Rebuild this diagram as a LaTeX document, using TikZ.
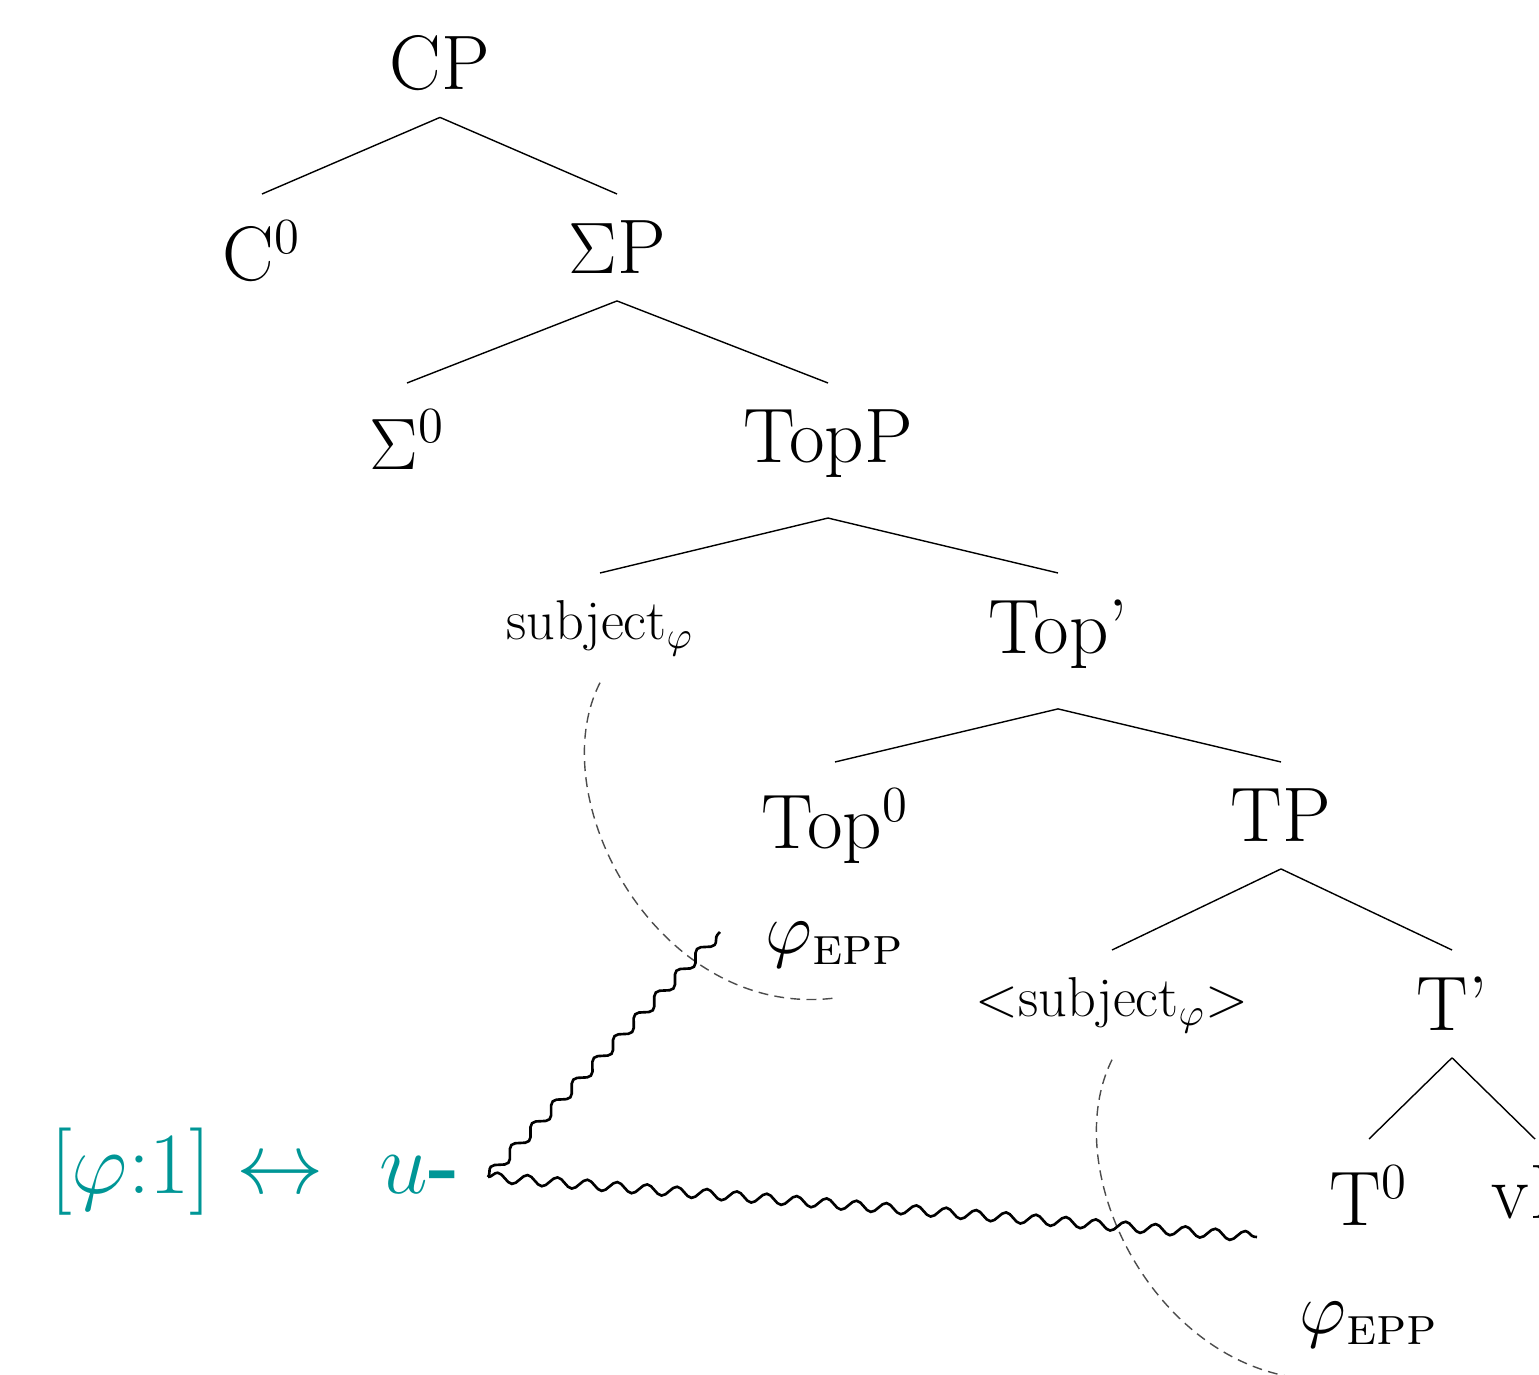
\documentclass[tikz,border=0pt]{standalone}
\usepackage{amsmath}
\usetikzlibrary{decorations.pathmorphing}
\definecolor{rulecol}{RGB}{0,150,150}

\begin{document}
\begin{tikzpicture}[
    big/.style={font=\fontsize{22}{26}\selectfont, anchor=north, inner xsep=2pt, inner ysep=7.5pt},
    small/.style={font=\fontsize{16}{19}\selectfont, anchor=north, inner xsep=2pt, inner ysep=7.5pt},
    branch/.style={line width=0.4pt},
    trace/.style={black!70, line width=0.4pt, dash pattern=on 2.8pt off 1.8pt},
    agree/.style={line width=0.75pt, decorate,
      decoration={snake, amplitude=0.5mm, segment length=3mm}}]
    % frame (tree is cut at the right and bottom)
    \clip (0,0) rectangle (15.39,-13.75);

    % tree nodes
    \node[big] (cp) at (4.40,-0.08) {CP};
    \node[big] (czero) at (2.62,-1.94) {C$^0$};
    \node[big] (sigmap) at (6.17,-1.94) {$\Sigma$P};
    \node[big] (sigmazero) at (4.07,-3.83) {$\Sigma^0$};
    \node[big, text depth=8pt] (topp) at (8.28,-3.83) {TopP};
    \node[small] (subj) at (6.00,-5.73) {subject$_\varphi$};
    \node[big, text depth=8pt] (topbar) at (10.58,-5.73) {Top'};
    \node[big] (topzero) at (8.35,-7.62) {Top$^0$};
    \node[big] (tp) at (12.81,-7.62) {TP};
    \node[small] (subjtrace) at (11.12,-9.50) {\textless subject$_\varphi$\textgreater};
    \node[big] (tbar) at (14.52,-9.50) {T'};
    \node[big] (tzero) at (13.69,-11.39) {T$^0$};
    \node[big] (vp) at (15.35,-11.39) {vP};

    % features on the heads
    \node[font=\fontsize{22}{26}\selectfont] (epptop) at (8.35,-9.45) {$\varphi_{\text{\textsc{epp}}}$};
    \node[font=\fontsize{22}{26}\selectfont] (eppt) at (13.69,-13.25) {$\varphi_{\text{\textsc{epp}}}$};

    % branches
    \foreach \a/\b in {cp/czero, cp/sigmap, sigmap/sigmazero, sigmap/topp,
                       topp/subj, topp/topbar, topbar/topzero, topbar/tp,
                       tp/subjtrace, tp/tbar, tbar/tzero, tbar/vp}
      \draw[branch] (\a.south) -- (\b.north);

    % vocabulary item
    \node[font=\fontsize{24}{28}\selectfont, text=rulecol] (rule) at (2.55,-11.72)
      {$[\varphi{:}1]\leftrightarrow{}$\hspace{9pt}$u$\textbf{-}};

    % movement paths
    \coordinate (d1) at (8.35,-9.98);
    \coordinate (d2) at (13.47,-13.78);
    \draw[trace] (subj.south) .. controls (5.40,-8.00) and (6.60,-10.20) .. (d1);
    \draw[trace] (subjtrace.south) .. controls (10.52,-11.80) and (11.72,-14.00) .. (d2);

    % agreement lines
    \coordinate (w0) at (4.88,-11.77);
    \coordinate (w1) at (7.20,-9.32);
    \coordinate (w2) at (12.57,-12.37);
    \draw[agree] (w0) -- (w1);
    \draw[agree] (w0) -- (w2);
  \end{tikzpicture}
\end{document}
